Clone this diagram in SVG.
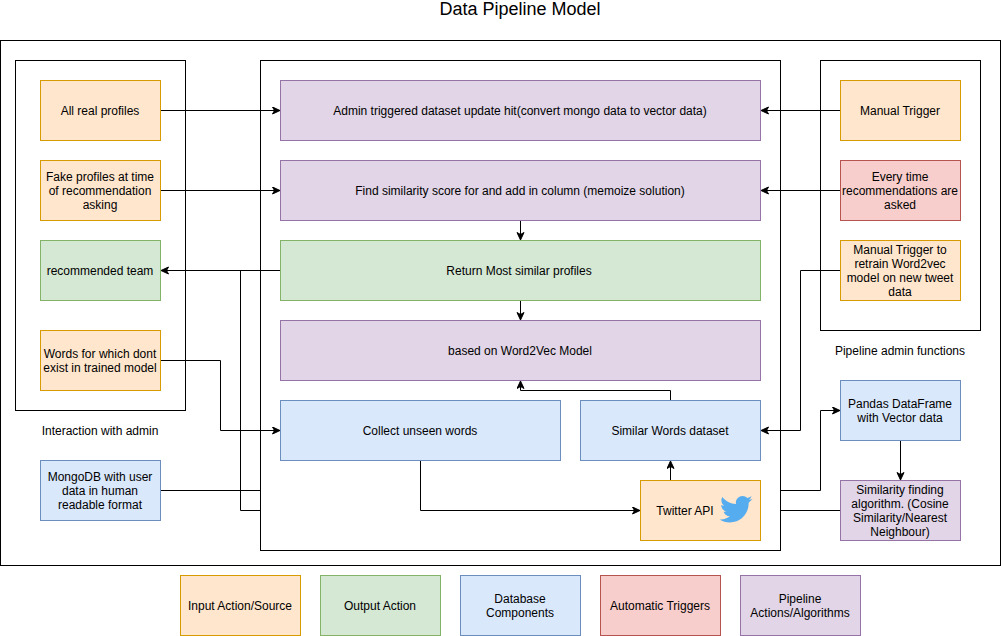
<svg xmlns="http://www.w3.org/2000/svg" width="1001" height="636" viewBox="0 0 1001 636">
<style>
text{font-family:"Liberation Sans",Arial,sans-serif;font-size:12px;fill:#000;text-anchor:middle}
.o{fill:#ffe6cc;stroke:#d79b00}.g{fill:#d5e8d4;stroke:#82b366}.b{fill:#dae8fc;stroke:#6c8ebf}.r{fill:#f8cecc;stroke:#b85450}.p{fill:#e1d5e7;stroke:#9673a6}
.f{fill:none;stroke:#000}
#connectors path{fill:none;stroke:#000}
</style>
<defs><marker id="a" markerUnits="userSpaceOnUse" markerWidth="10" markerHeight="10" refX="8" refY="4" orient="auto"><path d="M0.5 0.5L8 4L0.5 7.5L2.5 4Z" fill="#000" stroke="#000"/></marker></defs>
<rect width="1001" height="636" fill="#fff"/>
<text x="520" y="15" style="font-size:18px">Data Pipeline Model</text>
<g id="containers">
<rect class="f" x="0.5" y="40.5" width="1000" height="525"/>
<rect class="f" x="15.5" y="60.5" width="170" height="350"/>
<rect class="f" x="260.5" y="60.5" width="520" height="490"/>
<rect class="f" x="820.5" y="60.5" width="160" height="270"/>
<text x="100" y="435">Interaction with admin</text>
<text x="900" y="355">Pipeline admin functions</text>
</g>
<g id="connectors">
<path d="M160.500 110.500H280" marker-end="url(#a)"/>
<path d="M160.500 190.500H280" marker-end="url(#a)"/>
<path d="M840.500 110.500H761" marker-end="url(#a)"/>
<path d="M840.500 190.500H761" marker-end="url(#a)"/>
<path d="M520.500 220.500V240" marker-end="url(#a)"/>
<path d="M520.500 300.500V320" marker-end="url(#a)"/>
<path d="M280.500 270.500H161" marker-end="url(#a)"/>
<path d="M240.500 270.500V510.500H260.500"/>
<path d="M160.500 360.500H220.500V430.500H280" marker-end="url(#a)"/>
<path d="M160.500 490.500H260.500"/>
<path d="M420.500 460.500V510.500H640" marker-end="url(#a)"/>
<path d="M670.500 480.500V461" marker-end="url(#a)"/>
<path d="M670.500 400.500V390.500H520.500V381" marker-end="url(#a)"/>
<path d="M840.500 270.500H800.500V430.500H761" marker-end="url(#a)"/>
<path d="M780.500 490.500H820.500V410.500H840" marker-end="url(#a)"/>
<path d="M900.500 440.500V480" marker-end="url(#a)"/>
<path d="M780.500 510.500H840.500"/>
</g>
<g id="n1"><rect class="o" x="40.500" y="80.500" width="120" height="60"/><text x="100" y="115">All real profiles</text></g>
<g id="n2"><rect class="o" x="40.500" y="160.500" width="120" height="60"/><text x="100" y="181">Fake profiles at time</text><text x="100" y="195">of recommendation</text><text x="100" y="209">asking</text></g>
<g id="n3"><rect class="g" x="40.500" y="240.500" width="120" height="60"/><text x="100" y="275">recommended team</text></g>
<g id="n4"><rect class="o" x="40.500" y="330.500" width="120" height="60"/><text x="100" y="358">Words for which dont</text><text x="100" y="372">exist in trained model</text></g>
<g id="n5"><rect class="b" x="40.500" y="460.500" width="120" height="60"/><text x="100" y="481">MongoDB with user</text><text x="100" y="495">data in human</text><text x="100" y="509">readable format</text></g>
<g id="n6"><rect class="p" x="280.500" y="80.500" width="480" height="60"/><text x="520" y="115">Admin triggered dataset update hit(convert mongo data to vector data)</text></g>
<g id="n7"><rect class="p" x="280.500" y="160.500" width="480" height="60"/><text x="520" y="195">Find similarity score for and add in column (memoize solution)</text></g>
<g id="n8"><rect class="g" x="280.500" y="240.500" width="480" height="60"/><text x="519" y="275">Return Most similar profiles</text></g>
<g id="n9"><rect class="p" x="280.500" y="320.500" width="480" height="60"/><text x="520" y="355">based on Word2Vec Model</text></g>
<g id="n10"><rect class="b" x="280.500" y="400.500" width="280" height="60"/><text x="420" y="435">Collect unseen words</text></g>
<g id="n11"><rect class="b" x="580.500" y="400.500" width="180" height="60"/><text x="670" y="435">Similar Words dataset</text></g>
<g id="n12"><rect class="o" x="640.500" y="480.500" width="120" height="60"/><text x="685" y="515">Twitter API</text>
<path transform="translate(752.500 495.500) scale(1.28) translate(-752 -497)" d="M752 499.500c-1 .5-2 .8-3 .9 1.100-.6 1.900-1.600 2.300-2.800-1 .6-2.100 1-3.300 1.300-1-1-2.300-1.600-3.800-1.600-2.900 0-5.200 2.300-5.200 5.200 0 .4 0 .8.100 1.200-4.300-.2-8.100-2.300-10.700-5.500-.4.800-.7 1.700-.7 2.600 0 1.800.9 3.400 2.300 4.300-.9 0-1.700-.3-2.400-.6 0 2.500 1.800 4.600 4.200 5.100-.8.200-1.600.2-2.400.1.700 2.100 2.600 3.600 4.900 3.600-2.300 1.800-5.100 2.700-8 2.400 2.300 1.500 5 2.300 8 2.300 9.500 0 14.700-7.900 14.700-14.700v-.7c1-.7 1.900-1.600 2.700-2.600z" fill="#55acee"/></g>
<g id="n13"><rect class="o" x="840.500" y="80.500" width="120" height="60"/><text x="900" y="115">Manual Trigger</text></g>
<g id="n14"><rect class="r" x="840.500" y="160.500" width="120" height="60"/><text x="900" y="181">Every time</text><text x="900" y="195">recommendations are</text><text x="900" y="209">asked</text></g>
<g id="n15"><rect class="o" x="840.500" y="240.500" width="120" height="60"/><text x="900" y="254">Manual Trigger to</text><text x="900" y="268">retrain Word2vec</text><text x="900" y="282">model on new tweet</text><text x="900" y="296">data</text></g>
<g id="n16"><rect class="b" x="840.500" y="380.500" width="120" height="60"/><text x="900" y="408">Pandas DataFrame</text><text x="900" y="422">with Vector data</text></g>
<g id="n17"><rect class="p" x="840.500" y="480.500" width="120" height="60"/><text x="900" y="494">Similarity finding</text><text x="900" y="508">algorithm. (Cosine</text><text x="900" y="522">Similarity/Nearest</text><text x="900" y="536">Neighbour)</text></g>
<g id="l1"><rect class="o" x="180.500" y="575.500" width="120" height="60"/><text x="240" y="610">Input Action/Source</text></g>
<g id="l2"><rect class="g" x="320.500" y="575.500" width="120" height="60"/><text x="380" y="610">Output Action</text></g>
<g id="l3"><rect class="b" x="460.500" y="575.500" width="120" height="60"/><text x="520" y="603">Database</text><text x="520" y="617">Components</text></g>
<g id="l4"><rect class="r" x="600.500" y="575.500" width="120" height="60"/><text x="660" y="610">Automatic Triggers</text></g>
<g id="l5"><rect class="p" x="740.500" y="575.500" width="120" height="60"/><text x="800" y="603">Pipeline</text><text x="800" y="617">Actions/Algorithms</text></g>
</svg>
